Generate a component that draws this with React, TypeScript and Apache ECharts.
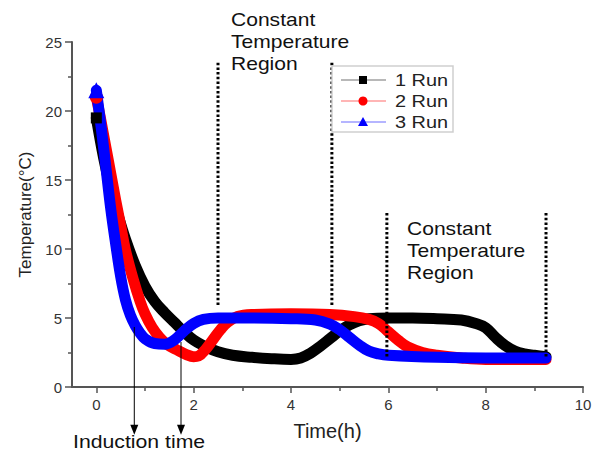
import React, { useEffect, useRef } from 'react';
import * as echarts from 'echarts';

// Run 1 (black)
const run1Time = [0, 0.15, 0.3, 0.45, 0.6, 0.8, 1.0, 1.2, 1.4, 1.6, 1.8, 2.0, 2.2, 2.5, 2.8, 3.2, 3.6, 4.0, 4.2, 4.4, 4.6, 4.8, 5.0, 5.2, 5.4, 5.6, 6.0, 6.5, 7.0, 7.5, 7.8, 8.0, 8.2, 8.4, 8.6, 8.8, 9.0, 9.24];
const run1Temp = [19.5, 16.6, 14.3, 12.4, 10.7, 8.8, 7.3, 6.2, 5.4, 4.7, 4.0, 3.4, 3.0, 2.55, 2.3, 2.15, 2.05, 2.0, 2.1, 2.45, 2.95, 3.5, 4.05, 4.5, 4.8, 4.95, 5.0, 5.0, 4.95, 4.85, 4.6, 4.3, 3.6, 3.0, 2.6, 2.4, 2.3, 2.2];
// Run 2 (red)
const run2Time = [0, 0.1, 0.2, 0.3, 0.4, 0.5, 0.6, 0.75, 0.9, 1.0, 1.15, 1.3, 1.45, 1.65, 1.85, 2.0, 2.1, 2.25, 2.4, 2.55, 2.7, 2.9, 3.2, 4.0, 4.8, 5.3, 5.6, 5.8, 6.0, 6.2, 6.4, 6.7, 7.0, 7.5, 8.0, 9.24];
const run2Temp = [21.0, 19.2, 17.3, 15.4, 13.5, 11.7, 9.9, 7.9, 6.2, 5.3, 4.3, 3.6, 3.1, 2.7, 2.35, 2.2, 2.25, 2.75, 3.45, 4.15, 4.7, 5.1, 5.25, 5.3, 5.25, 5.1, 4.9, 4.6, 4.0, 3.4, 2.9, 2.5, 2.3, 2.1, 2.0, 2.0];
// Run 3 (blue)
const run3Time = [0, 0.1, 0.2, 0.3, 0.4, 0.5, 0.6, 0.7, 0.8, 0.9, 1.0, 1.2, 1.4, 1.6, 1.8, 2.0, 2.2, 2.5, 3.0, 4.0, 4.5, 4.8, 5.0, 5.2, 5.4, 5.6, 5.8, 6.0, 7.0, 8.0, 9.24];
const run3Temp = [21.5, 18.8, 15.8, 12.8, 10.3, 8.0, 6.3, 5.2, 4.45, 3.9, 3.5, 3.15, 3.1, 3.4, 4.05, 4.6, 4.9, 5.0, 5.0, 4.95, 4.85, 4.55, 4.15, 3.6, 3.05, 2.6, 2.4, 2.3, 2.15, 2.1, 2.1];

// Annotations
const regionLineX = [2.5, 4.84, 5.97, 9.24];
const regionLineTop = [23.5, 23.5, 12.6, 12.6];
const regionLineBottom = [5.8, 5.8, 2.1, 2.2];
const inductionX = [0.78, 1.74];
const inductionTop = [4.35, 3.26];
const inductionArrowY = -3.1;

// Axis ticks
const xMajorTicks = [0, 2, 4, 6, 8, 10];
const xMinorTicks = [1, 3, 5, 7, 9];
const yMinorTicks = [2.5, 7.5, 12.5, 17.5, 22.5];

const FONT = '"Liberation Sans", Arial, Helvetica, sans-serif';

function curve(name: string, t: number[], v: number[], color: string, symbol: string, size: number) {
  return {
    type: 'line',
    name,
    data: t.map((x, i) =>
      i === 0 ? { value: [x, v[i]], symbol, symbolSize: size, itemStyle: { color } } : [x, v[i]]
    ),
    symbol: 'none',
    showSymbol: true,
    smooth: 0.4,
    lineStyle: { color, width: 11, cap: 'round', join: 'round' },
    itemStyle: { color },
    silent: true,
  };
}

export default function App() {
  const ref = useRef<HTMLDivElement>(null);
  useEffect(() => {
    const chart = echarts.init(ref.current!, null, { renderer: 'svg' });
    const regionSeries = regionLineX.map((x, i) => ({
      type: 'line',
      data: [[x, regionLineTop[i]], [x, regionLineBottom[i]]],
      symbol: 'none',
      lineStyle: { color: '#000', width: 3, type: [2.5, 2.2] },
      silent: true,
      z: 5,
    }));
    const arrowSeries = inductionX.map((x, i) => ({
      type: 'line',
      clip: false,
      data: [
        { value: [x, inductionTop[i]], symbol: 'none' },
        { value: [x, inductionArrowY], symbol: 'triangle', symbolRotate: 180, symbolSize: [8, 10] },
      ],
      lineStyle: { color: '#000', width: 1 },
      itemStyle: { color: '#000' },
      silent: true,
      z: 6,
    }));

    const legendItems = [
      { label: '1 Run', line: '#a0a0a0', color: '#000', shape: 'rect', y: 80 },
      { label: '2 Run', line: '#ff9c9c', color: '#ff0000', shape: 'circle', y: 101 },
      { label: '3 Run', line: '#9c9cff', color: '#0000ff', shape: 'tri', y: 122 },
    ];
    const legendGraphics: any[] = [
      {
        type: 'rect',
        shape: { x: 332, y: 66, width: 121, height: 66 },
        style: { fill: '#fff', stroke: '#cfcfcf', lineWidth: 1.5 },
        z: 100,
      },
    ];
    legendItems.forEach((it) => {
      legendGraphics.push({
        type: 'line',
        shape: { x1: 341, y1: it.y, x2: 386, y2: it.y },
        style: { stroke: it.line, lineWidth: 1.5 },
        z: 101,
      });
      if (it.shape === 'rect') {
        legendGraphics.push({ type: 'rect', shape: { x: 359, y: it.y - 4, width: 8, height: 8 }, style: { fill: it.color }, z: 102 });
      } else if (it.shape === 'circle') {
        legendGraphics.push({ type: 'circle', shape: { cx: 363, cy: it.y, r: 4.5 }, style: { fill: it.color }, z: 102 });
      } else {
        legendGraphics.push({
          type: 'polygon',
          shape: { points: [[363, it.y - 5], [368, it.y + 4], [358, it.y + 4]] },
          style: { fill: it.color },
          z: 102,
        });
      }
      legendGraphics.push({
        type: 'text',
        x: 395,
        y: it.y,
        scaleX: 1.17,
        style: { text: it.label, fill: '#222', font: `17px ${FONT}`, verticalAlign: 'middle', align: 'left' },
        z: 102,
      });
    });

    const option: any = {
      animation: false,
      backgroundColor: '#fff',
      grid: [
        { left: 72, right: 14, top: 42, bottom: 66 },
        { left: 72, right: 14, top: 42, bottom: 66 },
      ],
      xAxis: [
        {
          type: 'value',
          gridIndex: 0,
          min: -0.5,
          max: 10,
          axisLine: { show: true, onZero: false, lineStyle: { color: '#555', width: 2 } },
          axisTick: { show: true, customValues: xMajorTicks, length: 6, lineStyle: { color: '#555', width: 1.5 } },
          axisLabel: { customValues: xMajorTicks, fontSize: 15, color: '#333', margin: 10, fontFamily: FONT },
          splitLine: { show: false },
          name: 'Time(h)',
          nameLocation: 'middle',
          nameGap: 34,
          nameTextStyle: { fontSize: 20, color: '#222', fontFamily: FONT },
        },
        {
          type: 'value',
          gridIndex: 1,
          min: -0.5,
          max: 10,
          axisLine: { show: false, onZero: false },
          axisTick: { show: true, customValues: xMinorTicks, length: 4, lineStyle: { color: '#555', width: 1.5 } },
          axisLabel: { show: false },
          splitLine: { show: false },
        },
      ],
      yAxis: [
        {
          type: 'value',
          gridIndex: 0,
          min: 0,
          max: 25,
          interval: 5,
          axisLine: { show: true, onZero: false, lineStyle: { color: '#555', width: 2 } },
          axisTick: { show: true, length: 7, lineStyle: { color: '#555', width: 1.5 } },
          axisLabel: { fontSize: 15, color: '#333', margin: 10, fontFamily: FONT },
          splitLine: { show: false },
          name: 'Temperature(°C)',
          nameLocation: 'middle',
          nameRotate: 90,
          nameGap: 38,
          nameTextStyle: { fontSize: 17, color: '#222', fontFamily: FONT },
        },
        {
          type: 'value',
          gridIndex: 1,
          min: 0,
          max: 25,
          interval: 5,
          axisLine: { show: false, onZero: false },
          axisTick: { show: true, customValues: yMinorTicks, length: 4, lineStyle: { color: '#555', width: 1.5 } },
          axisLabel: { show: false },
          splitLine: { show: false },
        },
      ],
      series: [
        curve('1 Run', run1Time, run1Temp, '#000000', 'rect', 11),
        curve('2 Run', run2Time, run2Temp, '#ff0000', 'circle', 13),
        curve('3 Run', run3Time, run3Temp, '#0000ff', 'triangle', 16),
        ...regionSeries,
        ...arrowSeries,
      ],
      graphic: [
        {
          type: 'text',
          x: 231,
          y: 9,
          scaleX: 1.17,
          style: { text: 'Constant\nTemperature\nRegion', fill: '#111', font: `18px ${FONT}`, lineHeight: 22, verticalAlign: 'top' },
          z: 50,
        },
        {
          type: 'text',
          x: 407,
          y: 218,
          scaleX: 1.17,
          style: { text: 'Constant\nTemperature\nRegion', fill: '#111', font: `18px ${FONT}`, lineHeight: 22, verticalAlign: 'top' },
          z: 50,
        },
        {
          type: 'text',
          x: 73,
          y: 442,
          scaleX: 1.18,
          style: { text: 'Induction time', fill: '#111', font: `18px ${FONT}`, verticalAlign: 'middle' },
          z: 50,
        },
        ...legendGraphics,
      ],
    };
    chart.setOption(option);
    return () => chart.dispose();
  }, []);
  return (
    <div
      ref={ref}
      style={{ position: 'fixed', left: 0, top: 0, width: 597, height: 453, background: '#fff' }}
    />
  );
}
